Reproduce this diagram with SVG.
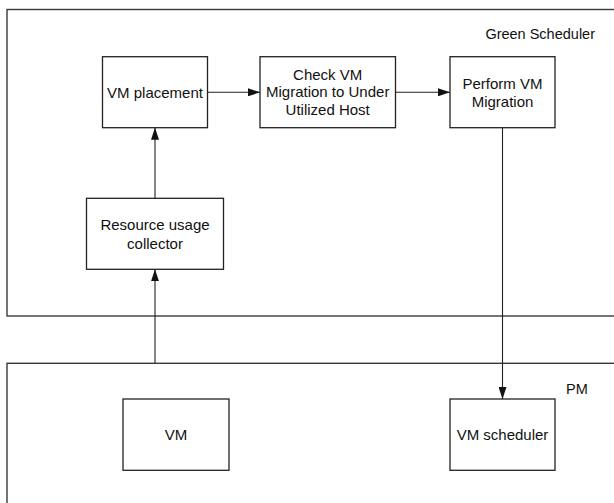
<svg xmlns="http://www.w3.org/2000/svg" width="614" height="503" viewBox="0 0 614 503">
  <style>
    .frame { fill: none; stroke: #3a3a3a; stroke-width: 1.4; }
    .box { fill: #ffffff; stroke: #222222; stroke-width: 1.3; }
    .lbl { font-family: "Liberation Sans", Arial, sans-serif; font-size: 15px; fill: #111111; text-anchor: middle; }
    .title { font-family: "Liberation Sans", Arial, sans-serif; font-size: 14.5px; fill: #111111; }
    .conn { fill: none; stroke: #222222; stroke-width: 1.1; marker-end: url(#arrow); }
  </style>
  <defs>
    <marker id="arrow" viewBox="0 0 12 8" refX="12" refY="4" markerWidth="12" markerHeight="8" markerUnits="userSpaceOnUse" orient="auto">
      <path d="M0,0 L12,4 L0,8 Z" fill="#111111"/>
    </marker>
  </defs>
  <rect width="614" height="503" fill="#ffffff"/>

  <g id="green-scheduler">
    <rect class="frame" x="7" y="9.5" width="620" height="306.5"/>
    <text class="title" x="595" y="38.5" text-anchor="end">Green Scheduler</text>
  </g>

  <g id="pm">
    <rect class="frame" x="7" y="363.3" width="620" height="160"/>
    <text class="title" x="566" y="394" font-size="15">PM</text>
  </g>

  <g id="vm-placement">
    <rect class="box" x="102.5" y="56.7" width="105" height="71"/>
    <text class="lbl" x="155" y="97.5">VM placement</text>
  </g>

  <g id="check-vm-migration">
    <rect class="box" x="260" y="56.7" width="135.5" height="71"/>
    <text class="lbl" x="327.7" y="79.5">Check VM</text>
    <text class="lbl" x="327.7" y="97">Migration to Under</text>
    <text class="lbl" x="327.7" y="114.5">Utilized Host</text>
  </g>

  <g id="perform-vm-migration">
    <rect class="box" x="450" y="56.7" width="105" height="71"/>
    <text class="lbl" x="502.5" y="88.5">Perform VM</text>
    <text class="lbl" x="502.5" y="106.5">Migration</text>
  </g>

  <g id="resource-usage-collector">
    <rect class="box" x="86.5" y="198.3" width="137" height="71"/>
    <text class="lbl" x="155" y="229.5">Resource usage</text>
    <text class="lbl" x="155" y="249">collector</text>
  </g>

  <g id="vm">
    <rect class="box" x="123" y="399" width="106" height="71.3"/>
    <text class="lbl" x="176" y="440">VM</text>
  </g>

  <g id="vm-scheduler">
    <rect class="box" x="450" y="399" width="105" height="71.3"/>
    <text class="lbl" x="502.5" y="440">VM scheduler</text>
  </g>

  <g id="connectors">
    <line class="conn" x1="207.5" y1="92.3" x2="260" y2="92.3"/>
    <line class="conn" x1="395.5" y1="92.3" x2="450" y2="92.3"/>
    <line class="conn" x1="155" y1="198.3" x2="155" y2="127.7"/>
    <line class="conn" x1="155" y1="363.3" x2="155" y2="269.3"/>
    <line class="conn" x1="502.5" y1="127.7" x2="502.5" y2="399"/>
  </g>
</svg>
